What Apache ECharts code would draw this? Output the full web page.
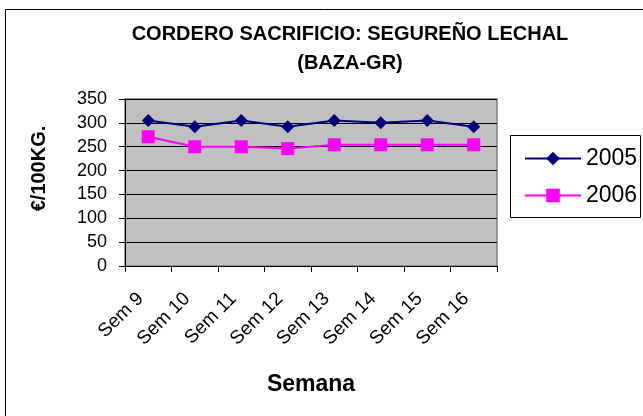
<!DOCTYPE html>
<html>
<head>
<meta charset="utf-8">
<script src="https://cdn.jsdelivr.net/npm/echarts@6/dist/echarts.min.js"></script>
<style>
  html, body { margin: 0; padding: 0; background: #fff; }
  #chart { width: 643px; height: 416px; }
</style>
</head>
<body>
<div id="chart"></div>
<script>
const weeks = ['Sem 9', 'Sem 10', 'Sem 11', 'Sem 12', 'Sem 13', 'Sem 14', 'Sem 15', 'Sem 16'];
const y2005 = [305, 292, 305, 292, 305, 300, 305, 292];
const y2006 = [271, 250, 250, 246, 254, 254, 254, 254];
const yTicks = [0, 50, 100, 150, 200, 250, 300, 350];

const font = 'Arial, "Liberation Sans", sans-serif';
const chart = echarts.init(document.getElementById('chart'));

chart.setOption({
  backgroundColor: '#fff',
  animation: false,
  graphic: [
    {
      type: 'rect',
      shape: { x: 5.5, y: 9.5, width: 700, height: 500 },
      style: { fill: 'none', stroke: '#000', lineWidth: 1 },
      silent: true,
      z: -1
    },
    {
      type: 'rect',
      shape: { x: 510.5, y: 135.5, width: 130, height: 82 },
      style: { fill: '#fff', stroke: '#000', lineWidth: 1 },
      silent: true,
      z: 0
    }
  ],
  title: {
    text: 'CORDERO SACRIFICIO: SEGUREÑO LECHAL\n(BAZA-GR)',
    left: 345,
    top: 15,
    textAlign: 'center',
    textStyle: { fontFamily: font, fontSize: 20, fontWeight: 'bold', color: '#000', lineHeight: 29 }
  },
  legend: {
    orient: 'vertical',
    left: 519,
    top: 142,
    itemWidth: 56,
    itemHeight: 17,
    itemGap: 14,
    textStyle: { fontFamily: font, fontSize: 23, color: '#000' },
    data: ['2005', '2006'],
    z: 5
  },
  grid: {
    left: 125,
    top: 99,
    right: 146,
    bottom: 150,
    show: true,
    backgroundColor: '#C0C0C0',
    borderColor: '#808080',
    borderWidth: 1.5
  },
  xAxis: {
    type: 'category',
    data: weeks,
    boundaryGap: true,
    name: 'Semana',
    nameLocation: 'middle',
    nameGap: 107,
    nameTextStyle: { fontFamily: font, fontSize: 23, fontWeight: 'bold', color: '#000' },
    axisLine: { lineStyle: { color: '#000', width: 1 } },
    axisTick: { show: true, length: 6, lineStyle: { color: '#000' } },
    axisLabel: { rotate: 45, fontFamily: font, fontSize: 19, color: '#000', margin: 22, padding: [0, 11, 0, 0] },
    splitLine: { show: false }
  },
  yAxis: {
    type: 'value',
    min: 0,
    max: yTicks[yTicks.length - 1],
    interval: yTicks[1] - yTicks[0],
    name: '€/100KG.',
    nameLocation: 'middle',
    nameGap: 76,
    nameRotate: 90,
    nameTextStyle: { fontFamily: font, fontSize: 20, fontWeight: 'bold', color: '#000', padding: [0, 0, 0, 28] },
    axisLine: { show: true, lineStyle: { color: '#000', width: 1 } },
    axisTick: { show: true, length: 6, lineStyle: { color: '#000' } },
    axisLabel: { fontFamily: font, fontSize: 18, color: '#000', margin: 18 },
    splitLine: { show: true, lineStyle: { color: '#000', width: 1 } }
  },
  series: [
    {
      name: '2005',
      type: 'line',
      data: y2005,
      symbol: 'diamond',
      symbolSize: 13,
      lineStyle: { color: '#000080', width: 2 },
      itemStyle: { color: '#000080' }
    },
    {
      name: '2006',
      type: 'line',
      data: y2006,
      symbol: 'rect',
      symbolSize: 13,
      lineStyle: { color: '#FF00FF', width: 2 },
      itemStyle: { color: '#FF00FF' }
    }
  ]
});
</script>
</body>
</html>
